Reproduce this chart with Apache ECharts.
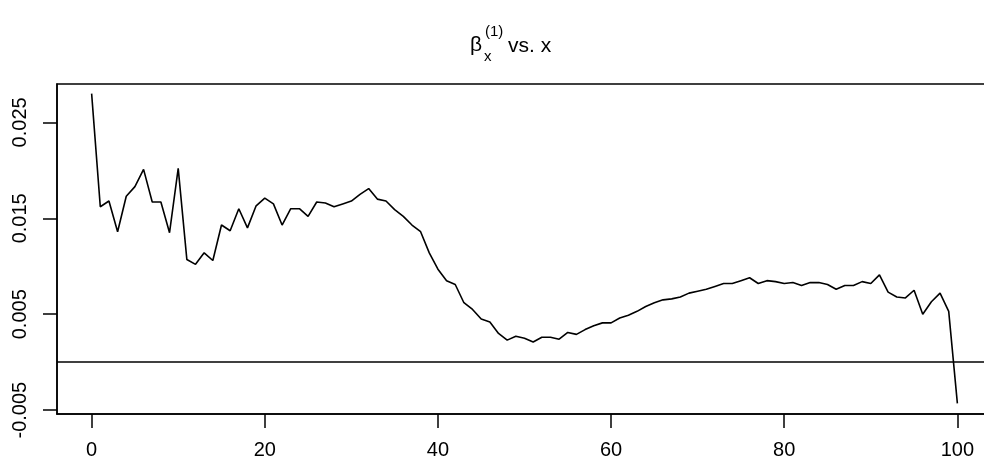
<!DOCTYPE html>
<html>
<head>
<meta charset="utf-8">
<script src="https://cdn.jsdelivr.net/npm/echarts@6/dist/echarts.min.js"></script>
<style>
  html, body { margin: 0; padding: 0; background: #fff; }
  #main { width: 984px; height: 465px; }
</style>
</head>
<body>
<div id="main"></div>
<script>
// x = 0..100
var xs = []
for (var k = 0; k <= 100; k++) xs.push(k)

// beta_x^(1)
var beta = [
  0.0280, 0.0162, 0.0168, 0.0136, 0.0173, 0.0183, 0.0201, 0.0167, 0.0167, 0.0135,
  0.0202, 0.0107, 0.0102, 0.0114, 0.0106, 0.0143, 0.0137, 0.0160, 0.0140, 0.0163,
  0.0171, 0.0165, 0.0143, 0.0160, 0.0160, 0.0152, 0.0167, 0.0166, 0.0162, 0.0165,
  0.0168, 0.0175, 0.0181, 0.0170, 0.0168, 0.0159, 0.0152, 0.0143, 0.0136, 0.0114,
  0.0097, 0.0085, 0.0081, 0.0062, 0.0055, 0.0045, 0.0042, 0.0030, 0.0023, 0.0027,
  0.0025, 0.0021, 0.0026, 0.0026, 0.0024, 0.0031, 0.0029, 0.0034, 0.0038, 0.0041,
  0.0041, 0.0046, 0.0049, 0.0053, 0.0058, 0.0062, 0.0065, 0.0066, 0.0068, 0.0072,
  0.0074, 0.0076, 0.0079, 0.0082, 0.0082, 0.0085, 0.0088, 0.0082, 0.0085, 0.0084,
  0.0082, 0.0083, 0.0080, 0.0083, 0.0083, 0.0081, 0.0076, 0.0080, 0.0080, 0.0084,
  0.0082, 0.0091, 0.0073, 0.0068, 0.0067, 0.0075, 0.0050, 0.0063, 0.0072, 0.0053,
  -0.0043
]

var xTicks = [0, 20, 40, 60, 80, 100]
var yTicks = [-0.005, 0.005, 0.015, 0.025]

var chartDom = document.getElementById('main')
var myChart = echarts.init(chartDom)
var font = 'Liberation Sans, Arial, sans-serif'

var option = {
  animation: false,
  backgroundColor: '#fff',
  grid: {
    left: 57,
    top: 84,
    width: 935,
    height: 330,
    outerBoundsMode: 'none',
    containLabel: false,
    show: true,
    borderColor: '#000',
    borderWidth: 1.5,
    backgroundColor: 'transparent'
  },
  graphic: [
    // title: beta_x^(1) vs. x
    { type: 'text', left: 470, top: 35, style: { text: 'β', font: '21px ' + font, fill: '#000' } },
    { type: 'text', left: 484, top: 49, style: { text: 'x', font: '15px ' + font, fill: '#000' } },
    { type: 'text', left: 485, top: 24, style: { text: '(1)', font: '15px ' + font, fill: '#000' } },
    { type: 'text', left: 508, top: 36, style: { text: 'vs. x', font: '21px ' + font, fill: '#000' } }
  ],
  xAxis: {
    type: 'value',
    min: -4,
    max: 104,
    splitLine: { show: false },
    axisLine: { show: true, onZero: false, lineStyle: { color: '#000', width: 1.5 } },
    axisTick: { show: true, inside: false, length: 14, customValues: xTicks, lineStyle: { color: '#000', width: 1.5 } },
    axisLabel: {
      customValues: xTicks,
      color: '#000',
      fontSize: 20,
      fontFamily: font,
      margin: 26
    }
  },
  yAxis: {
    type: 'value',
    min: -0.0054,
    max: 0.0290,
    splitLine: { show: false },
    axisLine: { show: true, onZero: false, lineStyle: { color: '#000', width: 1.5 } },
    axisTick: { show: true, inside: false, length: 14, customValues: yTicks, lineStyle: { color: '#000', width: 1.5 } },
    axisLabel: {
      customValues: yTicks,
      color: '#000',
      fontSize: 20,
      fontFamily: font,
      rotate: 90,
      margin: 27,
      formatter: function (v) { return v.toFixed(3) }
    }
  },
  series: [
    {
      type: 'line',
      data: xs.map(function (x, i) { return [x, beta[i]] }),
      showSymbol: false,
      lineStyle: { color: '#000', width: 1.6 },
      markLine: {
        silent: true,
        symbol: ['none', 'none'],
        label: { show: false },
        lineStyle: { color: '#000', width: 1.5, type: 'solid' },
        data: [{ yAxis: 0 }]
      }
    }
  ]
}
myChart.setOption(option)
</script>
</body>
</html>
